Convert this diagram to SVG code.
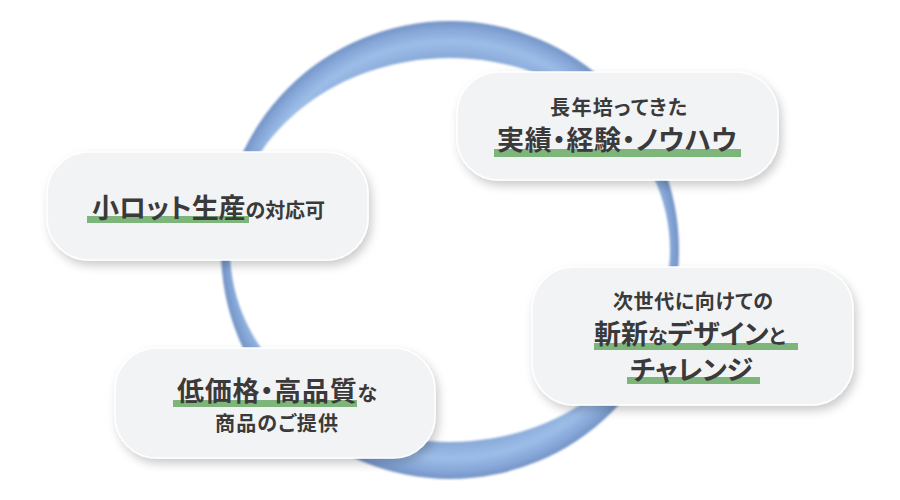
<svg xmlns="http://www.w3.org/2000/svg" width="900" height="500" viewBox="0 0 900 500">
  <defs>
    <radialGradient id="ringGrad" gradientUnits="userSpaceOnUse" cx="450" cy="250" r="229">
      <stop offset="0.83" stop-color="#86a6d6"/>
      <stop offset="0.91" stop-color="#9dbde8"/>
      <stop offset="0.965" stop-color="#86a7d8"/>
      <stop offset="1" stop-color="#7494c6"/>
    </radialGradient>
    <filter id="soft" x="-5%" y="-5%" width="110%" height="110%">
      <feGaussianBlur stdDeviation="0.8"/>
    </filter>
    <filter id="shadow" x="-10%" y="-20%" width="125%" height="150%">
      <feDropShadow dx="3" dy="5" stdDeviation="5" flood-color="#000" flood-opacity="0.2"/>
    </filter>
  </defs>
  <style>
    .card { fill: #f2f3f5; stroke: #ffffff; stroke-width: 1.5; filter: url(#shadow); }
    .ul { fill: #7db57b; }
    text { font-family: "Noto Sans CJK JP", "Noto Sans", sans-serif; font-weight: 700; fill: #3a3a3a; font-feature-settings: "palt"; }
    .big { font-size: 27px; }
    .small { font-size: 20px; }
  </style>
  <rect width="900" height="500" fill="#ffffff"/>

  <g id="connectors">
    <path d="M221,250 A229,229 0 1,0 679,250 A229,229 0 1,0 221,250 Z M230,250 A220,192 0 1,1 670,250 A220,192 0 1,1 230,250 Z" fill="url(#ringGrad)" fill-rule="evenodd" filter="url(#soft)"/>
  </g>

  <g id="node-experience">
    <rect class="card" x="457" y="72" width="321" height="108" rx="42"/>
    <text class="small" x="618.5" y="115" text-anchor="middle" textLength="137" lengthAdjust="spacing">長年培ってきた</text>
    <rect class="ul" x="494" y="149" width="247" height="8"/>
    <text class="big" x="497" y="150" textLength="240" lengthAdjust="spacing">実績・経験・ノウハウ</text>
  </g>

  <g id="node-small-lot">
    <rect class="card" x="47" y="152" width="321" height="108" rx="42"/>
    <rect class="ul" x="87" y="216" width="162" height="7"/>
    <text x="92" y="218" textLength="233" lengthAdjust="spacing"><tspan class="big">小ロット生産</tspan><tspan class="small">の対応可</tspan></text>
  </g>

  <g id="node-design">
    <rect class="card" x="532" y="267" width="321" height="138" rx="42"/>
    <text class="small" x="693" y="309" text-anchor="middle" textLength="160" lengthAdjust="spacing">次世代に向けての</text>
    <rect class="ul" x="594" y="343" width="204" height="7"/>
    <text x="594" y="344"><tspan class="big">斬新</tspan><tspan class="small">な</tspan><tspan class="big">デザイン</tspan><tspan class="small">と</tspan></text>
    <rect class="ul" x="627" y="377" width="133" height="7"/>
    <text class="big" x="630" y="380" textLength="123" lengthAdjust="spacing">チャレンジ</text>
  </g>

  <g id="node-price">
    <rect class="card" x="115" y="348" width="320" height="110" rx="42"/>
    <rect class="ul" x="173" y="400" width="184" height="7"/>
    <text x="177" y="401" textLength="200" lengthAdjust="spacing"><tspan class="big">低価格・高品質</tspan><tspan class="small">な</tspan></text>
    <text class="small" x="215" y="431" textLength="123" lengthAdjust="spacing">商品のご提供</text>
  </g>
</svg>
